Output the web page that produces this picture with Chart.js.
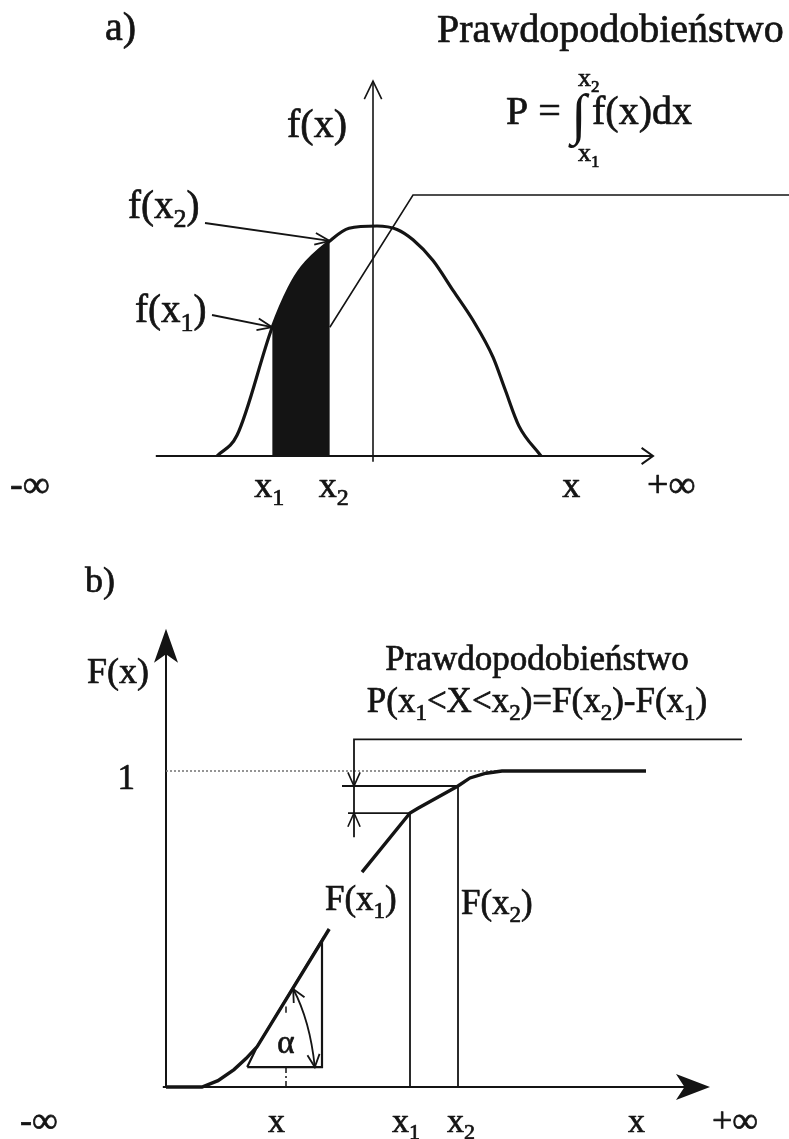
<!DOCTYPE html>
<html>
<head>
<meta charset="utf-8">
<script src="https://cdn.jsdelivr.net/npm/chart.js@4.4.1/dist/chart.umd.min.js"></script>
<style>
  html, body { margin: 0; padding: 0; background: #fff; }
  .panel { position: absolute; left: 0; width: 789px; }
  #panelA { top: 0; height: 520px; }
  #panelB { top: 520px; height: 619px; }
</style>
</head>
<body>
<div class="panel" id="panelA"><canvas id="chartA" width="789" height="520"></canvas></div>
<div class="panel" id="panelB"><canvas id="chartB" width="789" height="619"></canvas></div>
<script>
// a) gęstość f(x)
const densityX = [-3.9, -3.4, -2.52, -2.1, -1.78, -1.08, -0.6, 0.1, 0.6, 1.0, 1.5, 2.0, 2.5, 3.0, 3.3, 3.65, 4.2];
const densityY = [0, 0.09, 0.56, 0.73, 0.82, 0.935, 0.99, 1.0, 0.985, 0.94, 0.85, 0.72, 0.59, 0.43, 0.29, 0.13, 0];
const x1a = -2.52;
const x2a = -1.08;
const leaderX = [-1.08, 1.0, 10.4];
const leaderY = [0.56, 1.135, 1.135];
const ticksA = [ { x: x1a, text: 'x_1' }, { x: x2a, text: 'x_2' }, { x: 5.18, text: 'x' } ];

// b) dystrybuanta F(x)
const cdfX = [0, 0.9, 1.3, 1.7, 2.0, 2.28, 4.08, 4.5, 4.9, 6.1, 6.3, 7.3, 7.6, 8.0, 8.4, 12.0];
const cdfY = [0, 0, 0.02, 0.055, 0.09, 0.128, 0.5, null, 0.68, 0.867, 0.882, 0.9525, 0.978, 0.993, 1.0, 1.0];
const x1b = 6.1;
const x2b = 7.3;
const xTangent = 3.0;
const triangleX = [2.03, 2.28, 3.9, 3.9, 2.03];
const triangleY = [0.063, 0.128, 0.465, 0.063, 0.063];
const bracketX = [4.7, 4.7, 14.4];
const bracketY = [0.79, 1.10, 1.10];
const ticksB = [ { x: xTangent, text: 'x' }, { x: x1b, text: 'x_1' }, { x: x2b, text: 'x_2' }, { x: 12.0, text: 'x' } ];

const INK = '#141414';
const SERIF = '"Liberation Serif", "Times New Roman", serif';

function pts(xs, ys) {
    return xs.map((x, i) => ({ x: x, y: ys[i] }));
}

function line(ctx, ax, ay, bx, by) {
    ctx.beginPath();
    ctx.moveTo(ax, ay);
    ctx.lineTo(bx, by);
    ctx.stroke();
}

// open "V" arrowhead, tip at (tx,ty), pointing along angle ang
function openHead(ctx, tx, ty, ang, len, spread) {
    ctx.beginPath();
    ctx.moveTo(tx - len * Math.cos(ang - spread), ty - len * Math.sin(ang - spread));
    ctx.lineTo(tx, ty);
    ctx.lineTo(tx - len * Math.cos(ang + spread), ty - len * Math.sin(ang + spread));
    ctx.stroke();
}

// filled arrowhead with notched base
function solidHead(ctx, tx, ty, ang, len, half) {
    const c = Math.cos(ang), s = Math.sin(ang);
    const bx = tx - len * c, by = ty - len * s;
    ctx.beginPath();
    ctx.moveTo(tx, ty);
    ctx.lineTo(bx - half * s, by + half * c);
    ctx.lineTo(tx - len * 0.75 * c, ty - len * 0.75 * s);
    ctx.lineTo(bx + half * s, by - half * c);
    ctx.closePath();
    ctx.fill();
}

// text where "_d" puts a single character in subscript
function rich(ctx, str, x, y, size, align) {
    const parts = [];
    for (let i = 0; i < str.length; i++) {
        if (str[i] === '_') {
            parts.push({ t: str[i + 1], sub: true });
            i++;
        } else if (parts.length && !parts[parts.length - 1].sub) {
            parts[parts.length - 1].t += str[i];
        } else {
            parts.push({ t: str[i], sub: false });
        }
    }
    const subSize = Math.round(size * 0.66);
    let w = 0;
    parts.forEach(p => {
        ctx.font = (p.sub ? subSize : size) + 'px ' + SERIF;
        p.w = ctx.measureText(p.t).width;
        w += p.w;
    });
    let cx = align === 'center' ? x - w / 2 : align === 'right' ? x - w : x;
    ctx.textAlign = 'left';
    ctx.textBaseline = 'alphabetic';
    ctx.lineWidth = 0.7;
    ctx.lineJoin = 'round';
    parts.forEach(p => {
        ctx.font = (p.sub ? subSize : size) + 'px ' + SERIF;
        const ty = p.sub ? y + size * 0.22 : y;
        ctx.fillText(p.t, cx, ty);
        ctx.strokeText(p.t, cx, ty);
        cx += p.w;
    });
}

// tick labels: the subscript-2 labels sit a little further right
const tickShift = t => (t.text === 'x_2' ? -11 : -18);

const baseOptions = (xMin, xMax, yMin, yMax, padding) => ({
    responsive: false,
    animation: false,
    devicePixelRatio: 1,
    layout: { padding: padding },
    plugins: { legend: { display: false }, tooltip: { enabled: false } },
    elements: { point: { radius: 0 } },
    scales: {
        x: { type: 'linear', min: xMin, max: xMax, display: false },
        y: { type: 'linear', min: yMin, max: yMax, display: false }
    }
});

// ---------- panel a ----------
const f1 = densityY[densityX.indexOf(x1a)];
const f2 = densityY[densityX.indexOf(x2a)];
const shadeX = densityX.filter(x => x >= x1a && x <= x2a);
const shadeY = densityY.filter((y, i) => densityX[i] >= x1a && densityX[i] <= x2a);

const panelAPlugin = {
    id: 'panelA',
    beforeDatasetsDraw(chart) {
        const ctx = chart.ctx;
        const X = v => chart.scales.x.getPixelForValue(v);
        const Y = v => chart.scales.y.getPixelForValue(v);
        ctx.save();
        ctx.strokeStyle = INK;
        ctx.lineWidth = 2;
        line(ctx, X(-5.43), Y(0), X(7.0), Y(0));
        openHead(ctx, X(7.0), Y(0), 0, 14, 0.62);
        ctx.lineWidth = 1.6;
        line(ctx, X(0), Y(-0.025), X(0), Y(1.63));
        openHead(ctx, X(0), Y(1.63), -Math.PI / 2, 20, 0.45);
        ctx.restore();
    },
    afterDatasetsDraw(chart) {
        const ctx = chart.ctx;
        const X = v => chart.scales.x.getPixelForValue(v);
        const Y = v => chart.scales.y.getPixelForValue(v);
        ctx.save();
        ctx.fillStyle = INK;
        ctx.strokeStyle = INK;

        rich(ctx, 'a)', 105, 40, 40, 'left');
        rich(ctx, 'Prawdopodobieństwo', 437, 42, 40, 'left');
        rich(ctx, 'f(x)', X(0) - 86, 137, 40, 'left');

        // P = ∫ f(x)dx with limits
        rich(ctx, 'P =', 506, 124, 40, 'left');
        ctx.font = '56px ' + SERIF;
        ctx.fillText('∫', 571, 133);
        rich(ctx, 'x_2', 578, 86, 26, 'left');
        rich(ctx, 'x_1', 578, 161, 26, 'left');
        rich(ctx, 'f(x)dx', 592, 124, 40, 'left');

        // pointers to f(x1), f(x2)
        rich(ctx, 'f(x_2)', 128, 218, 39, 'left');
        rich(ctx, 'f(x_1)', 135, 322, 39, 'left');
        ctx.lineWidth = 1.8;
        [[205, 223, X(x2a), Y(f2)], [212, 315, X(x1a), Y(f1)]].forEach(a => {
            line(ctx, a[0], a[1], a[2], a[3]);
            openHead(ctx, a[2], a[3], Math.atan2(a[3] - a[1], a[2] - a[0]), 16, 0.38);
        });

        rich(ctx, '-∞', 10, 497, 38, 'left');
        rich(ctx, '+∞', 647, 497, 38, 'left');
        ticksA.forEach(t => rich(ctx, t.text, X(t.x) + tickShift(t), 497, 36, 'left'));
        ctx.restore();
    }
};

new Chart(document.getElementById('chartA'), {
    type: 'scatter',
    data: {
        datasets: [
            {
                data: pts(shadeX, shadeY),
                showLine: true,
                fill: 'origin',
                backgroundColor: INK,
                borderColor: INK,
                borderWidth: 1,
                cubicInterpolationMode: 'monotone'
            },
            {
                data: pts(densityX, densityY),
                showLine: true,
                borderColor: INK,
                borderWidth: 3.2,
                cubicInterpolationMode: 'monotone'
            },
            {
                data: pts(leaderX, leaderY),
                showLine: true,
                borderColor: INK,
                borderWidth: 1.6,
                clip: false
            }
        ]
    },
    options: baseOptions(-9, 10.4, 0, 1.7, { left: 13, right: 0, top: 65, bottom: 64 }),
    plugins: [panelAPlugin]
});

// ---------- panel b ----------
const F1 = cdfY[cdfX.indexOf(x1b)];
const F2 = cdfY[cdfX.indexOf(x2b)];

const panelBPlugin = {
    id: 'panelB',
    beforeDatasetsDraw(chart) {
        const ctx = chart.ctx;
        const X = v => chart.scales.x.getPixelForValue(v);
        const Y = v => chart.scales.y.getPixelForValue(v);
        ctx.save();
        ctx.strokeStyle = INK;
        ctx.fillStyle = INK;
        ctx.lineWidth = 2;
        line(ctx, X(-0.08), Y(0), X(13.0), Y(0));
        solidHead(ctx, X(13.6), Y(0), 0, 34, 13);
        line(ctx, X(0), Y(0), X(0), Y(1.40));
        solidHead(ctx, X(0), Y(1.45), -Math.PI / 2, 34, 12);

        // dotted level F = 1
        ctx.strokeStyle = '#7a7a7a';
        ctx.lineWidth = 1.6;
        ctx.setLineDash([2, 2]);
        line(ctx, X(0), Y(1), X(8.4), Y(1));
        ctx.setLineDash([]);
        ctx.restore();
    },
    afterDatasetsDraw(chart) {
        const ctx = chart.ctx;
        const X = v => chart.scales.x.getPixelForValue(v);
        const Y = v => chart.scales.y.getPixelForValue(v);
        ctx.save();
        ctx.strokeStyle = INK;
        ctx.fillStyle = INK;

        // dimension arrows on the bracket
        ctx.lineWidth = 1.6;
        openHead(ctx, X(bracketX[0]), Y(F2), Math.PI / 2, 15, 0.42);
        openHead(ctx, X(bracketX[0]), Y(F1), -Math.PI / 2, 15, 0.42);

        // tangent point marks
        ctx.lineWidth = 1.5;
        ctx.setLineDash([6, 3, 2, 3]);
        line(ctx, X(xTangent), Y(0), X(xTangent), Y(triangleY[0]));
        ctx.setLineDash([]);
        line(ctx, X(xTangent), Y(0.235), X(xTangent), Y(0.255));

        // angle arc
        const ax0 = X(3.18), ay0 = Y(0.31), ax1 = X(3.72), ay1 = Y(triangleY[0]);
        const cx = X(3.6), cy = Y(0.21);
        ctx.lineWidth = 1.8;
        ctx.beginPath();
        ctx.moveTo(ax0, ay0);
        ctx.quadraticCurveTo(cx, cy, ax1, ay1);
        ctx.stroke();
        openHead(ctx, ax0, ay0, Math.atan2(ay0 - cy, ax0 - cx), 14, 0.45);
        openHead(ctx, ax1, ay1, Math.atan2(ay1 - cy, ax1 - cx), 14, 0.45);

        rich(ctx, 'α', X(xTangent), 533, 33, 'center');
        rich(ctx, 'b)', 85, 72, 36, 'left');
        rich(ctx, 'F(x)', 87, 163, 36, 'left');
        rich(ctx, 'Prawdopodobieństwo', 537, 150, 35, 'center');
        rich(ctx, 'P(x_1<X<x_2)=F(x_2)-F(x_1)', 537, 192, 35, 'center');
        rich(ctx, '1', X(0) - 31, Y(1) + 18, 35, 'right');
        rich(ctx, 'F(x_1)', 325, 390, 35, 'left');
        rich(ctx, 'F(x_2)', X(x2b) + 3, 394, 35, 'left');

        rich(ctx, '-∞', 20, 612, 36, 'left');
        rich(ctx, '+∞', 712, 612, 36, 'left');
        ticksB.forEach(t => rich(ctx, t.text, X(t.x) + tickShift(t), 612, 34, 'left'));
        ctx.restore();
    }
};

const thin = (xs, ys, w) => ({
    data: pts(xs, ys),
    showLine: true,
    borderColor: INK,
    borderWidth: w,
    clip: false
});

new Chart(document.getElementById('chartB'), {
    type: 'scatter',
    data: {
        datasets: [
            {
                data: pts(cdfX, cdfY),
                showLine: true,
                spanGaps: false,
                borderColor: INK,
                borderWidth: 3.4,
                clip: false
            },
            thin([x1b, x1b], [0, F1], 1.8),
            thin([x2b, x2b], [0, F2], 1.8),
            thin([4.55, x1b], [F1, F1], 1.8),
            thin([4.4, x2b], [F2, F2], 1.8),
            thin(bracketX, bracketY, 1.8),
            thin(triangleX, triangleY, 2.2)
        ]
    },
    options: baseOptions(0, 15, 0, 1.5, { left: 166, right: 23, top: 93, bottom: 52 }),
    plugins: [panelBPlugin]
});
</script>
</body>
</html>
